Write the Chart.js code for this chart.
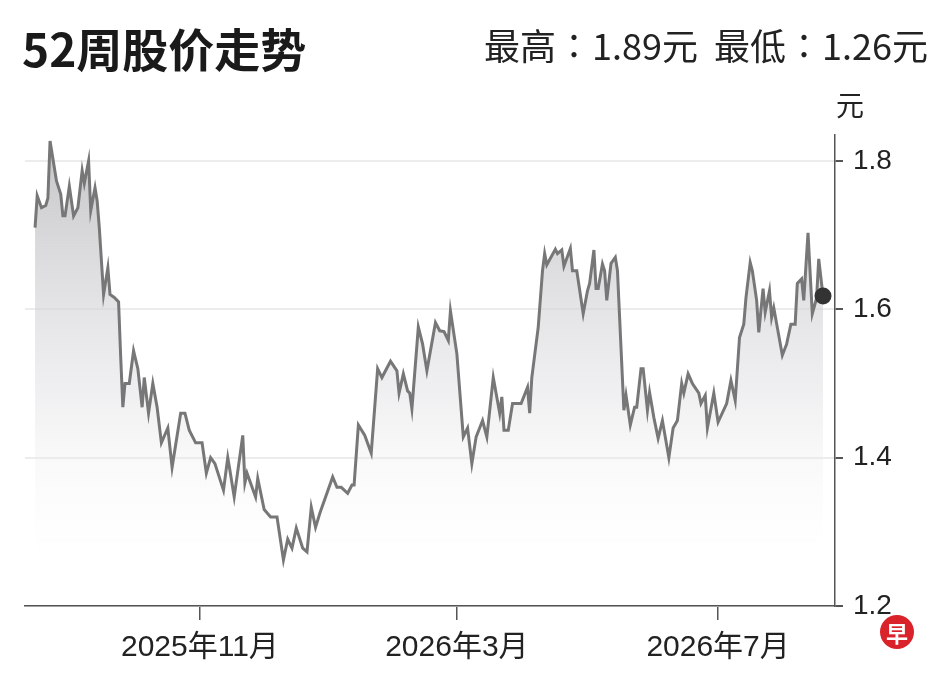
<!DOCTYPE html>
<html>
<head>
<meta charset="utf-8">
<script src="https://cdn.jsdelivr.net/npm/chart.js@4.4.1/dist/chart.umd.min.js"></script>
<style>
    body { margin: 0; background: #fff; font-family: "Noto Sans CJK SC", sans-serif; }
    #wrap { position: relative; width: 948px; height: 683px; }
    #chart { position: absolute; left: 0; top: 0; }
    .title { position: absolute; left: 22px; top: 14px; font-size: 46px; font-weight: bold; color: #1a1a1a; }
    .hilo { position: absolute; right: 20px; top: 18px; font-size: 36px; color: #222; }
    .unit { position: absolute; left: 836px; top: 84px; font-size: 28px; color: #222; }
    .logo { position: absolute; left: 880px; top: 615px; width: 34px; height: 34px; border-radius: 50%;
        background: #d9222a; color: #fff; font-size: 22px; line-height: 34px; text-align: center; font-weight: bold; }
</style>
</head>
<body>
<div id="wrap">
    <canvas id="chart" width="948" height="683"></canvas>
    <div class="title">52周股价走势</div>
    <div class="hilo">最高∶1.89元&nbsp;&nbsp;最低∶1.26元</div>
    <div class="unit">元</div>
    <div class="logo">早</div>
</div>
<script>
// 日数（起点からの経過日）と株価
const days = [0,1,3,5,6,7,10,12,13,14,16,18,20,22,23,25,26,28,29,30,32,34,35,37,39,40,41,42,44,46,48,50,51,53,55,57,59,62,64,68,70,72,75,78,80,82,84,88,90,91,93,97,98,99,103,104,107,110,113,116,118,120,122,125,127,129,131,133,139,141,143,146,148,149,151,154,157,160,162,166,169,170,172,174,175,176,179,181,183,187,189,191,193,194,197,200,202,204,206,209,211,214,217,218,219,221,223,227,230,231,232,235,237,238,239,243,244,246,247,250,251,253,256,258,259,261,262,263,265,266,267,269,271,272,275,276,278,280,281,283,284,286,287,289,291,293,296,298,300,302,303,305,307,310,311,313,314,317,319,323,325,327,329,331,332,334,335,337,338,340,341,343,344,345,349,351,353,355,356,358,359,361,363,365,366,368];
const prices = [1.71,1.753,1.737,1.74,1.75,1.827,1.773,1.755,1.726,1.726,1.766,1.726,1.737,1.787,1.77,1.80,1.733,1.764,1.746,1.71,1.62,1.656,1.62,1.616,1.61,1.535,1.468,1.50,1.50,1.544,1.52,1.468,1.508,1.46,1.50,1.468,1.42,1.44,1.387,1.46,1.46,1.437,1.42,1.42,1.379,1.40,1.392,1.356,1.40,1.383,1.347,1.43,1.366,1.379,1.347,1.372,1.33,1.32,1.32,1.262,1.29,1.278,1.305,1.278,1.273,1.333,1.306,1.325,1.374,1.36,1.36,1.352,1.363,1.363,1.444,1.43,1.406,1.52,1.508,1.53,1.517,1.487,1.513,1.49,1.487,1.466,1.576,1.553,1.517,1.582,1.571,1.57,1.558,1.598,1.54,1.428,1.44,1.392,1.428,1.45,1.428,1.508,1.46,1.482,1.437,1.437,1.473,1.473,1.495,1.46,1.508,1.576,1.652,1.675,1.66,1.681,1.675,1.68,1.658,1.682,1.652,1.652,1.594,1.625,1.635,1.68,1.628,1.628,1.661,1.652,1.612,1.662,1.67,1.652,1.464,1.484,1.444,1.468,1.468,1.52,1.52,1.464,1.488,1.454,1.426,1.45,1.40,1.44,1.45,1.50,1.487,1.513,1.50,1.487,1.473,1.484,1.44,1.487,1.448,1.473,1.504,1.477,1.562,1.58,1.615,1.663,1.652,1.612,1.569,1.628,1.596,1.625,1.589,1.602,1.538,1.553,1.58,1.58,1.635,1.641,1.612,1.703,1.594,1.615,1.668,1.618];
const tickDays = [77, 197, 319];
const tickLabels = ["2025年11月", "2026年3月", "2026年7月"];
const yTicks = [1.2, 1.4, 1.6, 1.8];

const points = days.map((d, i) => ({ x: d, y: prices[i] }));
const radii = points.map((p, i) => (i === points.length - 1 ? 7 : 0));

const ctx = document.getElementById("chart").getContext("2d");
new Chart(ctx, {
    type: "line",
    data: {
        datasets: [
            {
                data: points,
                borderColor: "#777",
                borderWidth: 3,
                tension: 0,
                pointRadius: radii,
                pointBackgroundColor: "#333",
                pointBorderColor: "#333",
                fill: "start",
                backgroundColor: (context) => {
                    const area = context.chart.chartArea;
                    if (!area) return "rgba(200,200,200,0.5)";
                    const g = context.chart.ctx.createLinearGradient(0, area.top, 0, area.bottom);
                    g.addColorStop(0, "rgba(185,185,188,0.85)");
                    g.addColorStop(0.55, "rgba(225,225,228,0.5)");
                    g.addColorStop(0.95, "rgba(255,255,255,0)");
                    return g;
                },
            },
        ],
    },
    options: {
        responsive: false,
        animation: false,
        layout: { padding: { left: 25, top: 135, right: 0, bottom: 0 } },
        plugins: { legend: { display: false }, tooltip: { enabled: false } },
        scales: {
            x: {
                type: "linear",
                min: -4.7,
                max: 373.6,
                afterBuildTicks: (axis) => {
                    axis.ticks = tickDays.map((v) => ({ value: v }));
                },
                afterFit: (axis) => { axis.height = 77; },
                ticks: {
                    autoSkip: false,
                    maxRotation: 0,
                    padding: 10,
                    color: "#222",
                    font: { size: 30, family: "Liberation Sans, Noto Sans CJK SC" },
                    callback: (v) => tickLabels[tickDays.indexOf(v)],
                },
                grid: { drawOnChartArea: false, tickLength: 14, color: "#555", lineWidth: 1.5 },
                border: { color: "#555", width: 1.5 },
            },
            y: {
                position: "right",
                min: 1.2,
                max: 1.835,
                afterBuildTicks: (axis) => {
                    axis.ticks = yTicks.map((v) => ({ value: v }));
                },
                afterFit: (axis) => { axis.width = 113; },
                ticks: {
                    padding: 10,
                    color: "#222",
                    font: { size: 28, family: "Liberation Sans" },
                    callback: (v) => v.toFixed(1),
                },
                grid: { color: "#ececec", lineWidth: 2, tickColor: "#555", tickLength: 8 },
                border: { color: "#555", width: 1.5 },
            },
        },
    },
});
</script>
</body>
</html>
